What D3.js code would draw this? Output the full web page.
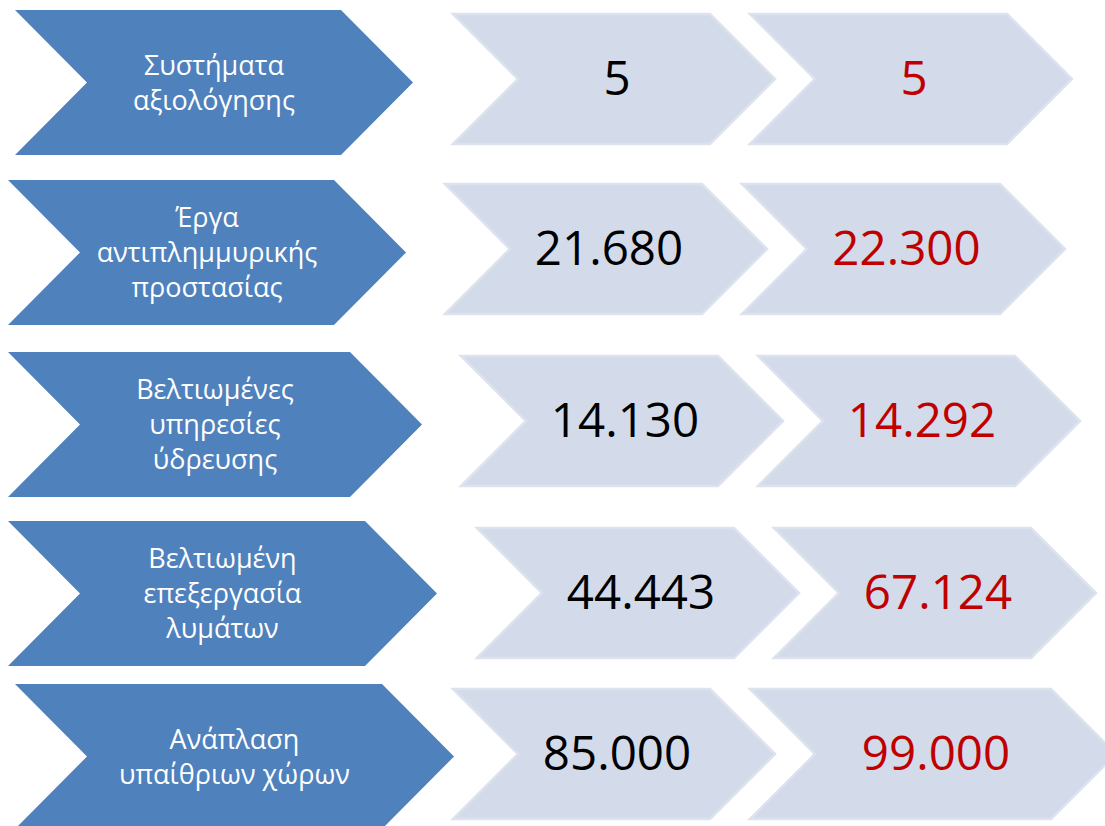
<!DOCTYPE html>
<html>
<head>
<meta charset="utf-8">
<script src="https://cdn.jsdelivr.net/npm/d3@7"></script>
<style>
  html, body { margin: 0; padding: 0; background: #ffffff; }
  svg { display: block; }
</style>
</head>
<body>
<svg id="chart" width="1105" height="826"></svg>
<script>
// ---- data ----
const categories = [
  ["Συστήματα", "αξιολόγησης"],
  ["Έργα", "αντιπλημμυρικής", "προστασίας"],
  ["Βελτιωμένες", "υπηρεσίες", "ύδρευσης"],
  ["Βελτιωμένη", "επεξεργασία", "λυμάτων"],
  ["Ανάπλαση", "υπαίθριων χώρων"]
];
const currentValues = ["5", "21.680", "14.130", "44.443", "85.000"];
const targetValues  = ["5", "22.300", "14.292", "67.124", "99.000"];

// ---- layout (positions only) ----
const rowNudge   = [0, 1.5, 5, 5.5, 0];      // vertical nudge of each row
const blueLeft   = [15, 8, 8, 8, 15];
const blueWidth  = [398, 398, 414, 429, 439];
const lightLeft  = [453, 445, 461, 477, 453];
const lightTopOff = [4, 4, 4, 7, 5];
const light2Width = [322, 323, 322, 322, 366];

const svg = d3.select("#chart");
const rowIdx = d3.range(categories.length);
const yRow = d3.scaleLinear().domain([0, categories.length - 1]).range([10, 684]);

const BLUE_H = 145, BLUE_D = 72;
const LIGHT_H = 130, LIGHT_D = 65, LIGHT_W = 322, LIGHT_GAP = 297;

function chevron(x, y, w, h, d) {
  const p = d3.path();
  p.moveTo(x, y);
  p.lineTo(x + w - d, y);
  p.lineTo(x + w, y + h / 2);
  p.lineTo(x + w - d, y + h);
  p.lineTo(x, y + h);
  p.lineTo(x + d, y + h / 2);
  p.closePath();
  return p.toString();
}

const rows = svg.selectAll("g.row")
  .data(rowIdx)
  .join("g")
  .attr("class", "row");

// blue category chevrons
rows.append("path")
  .attr("d", i => chevron(blueLeft[i], yRow(i) + rowNudge[i], blueWidth[i], BLUE_H, BLUE_D))
  .attr("fill", "#4F81BD");

// category labels
const LINE_H = 35;
rows.append("text")
  .attr("font-family", "'Open Sans', 'Noto Sans', sans-serif")
  .attr("font-size", 27)
  .attr("fill", "#ffffff")
  .attr("text-anchor", "middle")
  .each(function (i) {
    const lines = categories[i];
    const cx = blueLeft[i] + blueWidth[i] / 2;
    const cy = yRow(i) + rowNudge[i] + BLUE_H / 2;
    const first = cy + 9.5 - (lines.length - 1) / 2 * LINE_H;
    d3.select(this).selectAll("tspan")
      .data(lines)
      .join("tspan")
      .attr("x", cx)
      .attr("y", (d, k) => first + k * LINE_H)
      .text(d => d);
  });

// light value chevrons
function lightChevrons(sel, which) {
  sel.append("path")
    .attr("d", i => {
      const x = lightLeft[i] + (which === 1 ? LIGHT_GAP : 0);
      const w = which === 1 ? light2Width[i] : LIGHT_W;
      const y = yRow(i) + rowNudge[i] + lightTopOff[i];
      return chevron(x, y, w, LIGHT_H, LIGHT_D);
    })
    .attr("fill", "#D3DBEA")
    .attr("stroke", "#DCE2EE")
    .attr("stroke-width", 2.5)
    .attr("stroke-linejoin", "miter");
}
lightChevrons(rows, 0);
lightChevrons(rows, 1);

// values
function valueText(sel, which) {
  sel.append("text")
    .attr("font-family", "'Open Sans', 'Noto Sans', sans-serif")
    .attr("font-size", 47.5)
    .attr("text-anchor", "middle")
    .attr("fill", which === 1 ? "#C00000" : "#000000")
    .attr("x", i => {
      const x = lightLeft[i] + (which === 1 ? LIGHT_GAP : 0);
      const w = which === 1 ? light2Width[i] : LIGHT_W;
      return x + w / 2 + 3;
    })
    .attr("y", i => yRow(i) + rowNudge[i] + lightTopOff[i] + LIGHT_H / 2 + 16)
    .text(i => which === 1 ? targetValues[i] : currentValues[i]);
}
valueText(rows, 0);
valueText(rows, 1);
</script>
</body>
</html>
